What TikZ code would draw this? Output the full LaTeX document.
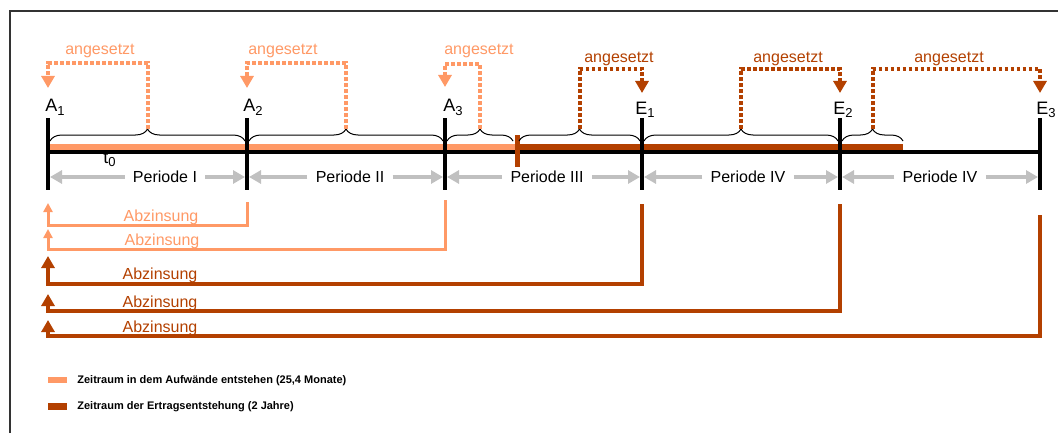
\documentclass[tikz,border=0pt]{standalone}
\usepackage{fontspec}
\setmainfont{Liberation Sans}
\usetikzlibrary{arrows.meta,calc,positioning,decorations.pathreplacing}
\definecolor{tlink}{HTML}{000000}
\definecolor{tllight}{HTML}{FF9966}
\definecolor{tldark}{HTML}{B34000}
\definecolor{tlgrey}{HTML}{C0C0C0}
\definecolor{tlframe}{HTML}{333333}
\newcommand{\tlsub}[1]{\raisebox{-0.35ex}{\fontsize{6.5}{7}\selectfont #1}}
\tikzset{
  tl text/.style={font=\fontsize{8}{9.6}\selectfont, text=tlink, inner sep=0pt},
  tl mark/.style={font=\fontsize{9}{10.8}\selectfont, text=tlink, inner sep=0pt, anchor=base west},
  tl legend/.style={font=\bfseries\fontsize{5.5}{6.6}\selectfont, text=tlink, inner sep=0pt, anchor=base west},
  tl frame/.style={draw=tlframe, line width=0.75pt},
  tl axis/.style={draw=tlink, line width=2pt},
  tl tick/.style={draw=tlink, line width=2pt},
  tl split/.style={draw=tldark, line width=2.5pt},
  tl bar light/.style={draw=tllight, line width=3pt},
  tl bar dark/.style={draw=tldark, line width=3.5pt},
  tl brace/.style={draw=tlink, line width=0.5pt, decorate, decoration={brace, amplitude=6pt}},
  tl dotted/.style={line width=2pt, dash pattern=on 1.8pt off 1.2pt,
    -{Triangle[length=6pt,width=6.5pt]}},
  tl period/.style={tl text, inner xsep=4pt},
  tl span/.style={draw=tlgrey, line width=2pt, shorten >=1pt,
    -{Triangle[length=6pt,width=6.5pt]}},
  tl disc light/.style={draw=tllight, line width=1.5pt,
    -{Triangle[length=4.5pt,width=4.5pt]}},
  tl disc dark/.style={draw=tldark, line width=2pt,
    -{Triangle[length=6pt,width=6.5pt]}}
}

\begin{document}
\begin{tikzpicture}[tl text, x=0.5pt, y=-0.5pt]
  \useasboundingbox (0,0) rectangle (1058,433);
  \draw[tl frame] (10,433) -- (10,11) -- (1058,11);
  % Zeitpunkte
  \coordinate (A1) at (48,152);
  \coordinate (A2) at (247,152);
  \coordinate (A3) at (445,152);
  \coordinate (E1) at (642,152);
  \coordinate (E2) at (840,152);
  \coordinate (E3) at (1040,152);
  % Zeitraeume und Achse
  \draw[tl bar light] (48,147) -- (517,147);
  \draw[tl bar dark] (517,147) -- (903,147);
  \draw[tl axis] (A1) -- (E3);
  \draw[tl split] (517,135) -- (517,167);
  \foreach \p in {A1,A2,A3,E1,E2,E3}
    \draw[tl tick] ($(\p)+(0,-34)$) -- ($(\p)+(0,38)$);
  \node[tl mark] (lA1) at (45,112) {A\tlsub{1}};
  \node[tl mark] (lA2) at (243,112) {A\tlsub{2}};
  \node[tl mark] (lA3) at (443,112) {A\tlsub{3}};
  \node[tl mark] (lE1) at (635,114) {E\tlsub{1}};
  \node[tl mark] (lE2) at (833,114) {E\tlsub{2}};
  \node[tl mark] (lE3) at (1036,114) {E\tlsub{3}};
  \node[tl mark] (t0) at (103,163) {t\tlsub{0}};
  % Klammern
  \foreach \s/\e/\n in {50/245/1, 249/443/2, 447/513/3, 519/640/4, 644/838/5, 842/903/6} {
    \draw[tl brace] (\s,141) -- (\e,141);
    \coordinate (b\n) at ({(\s+\e)/2},129);
  }
  % angesetzt
  \foreach \b/\p/\c/\h/\t in {b1/A1/tllight/-89/-64, b2/A2/tllight/-89/-64, b3/A3/tllight/-88/-65,
      b4/E1/tldark/-83/-59, b5/E2/tldark/-83/-59, b6/E3/tldark/-83/-59}
    \draw[tl dotted, draw=\c] (\b) |- ($(\p)+(0,\h)$) -- ($(\p)+(0,\t)$);
  \node[tl text, text=tllight, anchor=base] (n1) at (100,55) {angesetzt};
  \node[tl text, text=tllight, anchor=base] (n2) at (283,55) {angesetzt};
  \node[tl text, text=tllight, anchor=base] (n3) at (479,55) {angesetzt};
  \node[tl text, text=tldark, anchor=base] (n4) at (619,62) {angesetzt};
  \node[tl text, text=tldark, anchor=base] (n5) at (788,62) {angesetzt};
  \node[tl text, text=tldark, anchor=base] (n6) at (949,62) {angesetzt};
  % Perioden
  \foreach \n/\x/\l/\r/\t in {1/165/A1/A2/I, 2/350/A2/A3/II, 3/547/A3/E1/III,
      4/748/E1/E2/IV, 5/940/E2/E3/IV} {
    \node[tl period] (p\n) at (\x,177) {Periode \t};
    \draw[tl span] (p\n) -- (\l |- p\n);
    \draw[tl span] (p\n) -- (\r |- p\n);
  }
  % Abzinsung
  \draw[tl disc light] ($(A2)+(0,50)$) |- ($(A1)+(0,73)$) -- ($(A1)+(0,51)$);
  \draw[tl disc light] ($(A3)+(0,48)$) |- ($(A1)+(0,97)$) -- ($(A1)+(0,77)$);
  \draw[tl disc dark] ($(E1)+(0,52)$) |- ($(A1)+(0,132)$) -- ($(A1)+(0,104)$);
  \draw[tl disc dark] ($(E2)+(0,52)$) |- ($(A1)+(0,159)$) -- ($(A1)+(0,142)$);
  \draw[tl disc dark] ($(E3)+(0,63)$) |- ($(A1)+(0,184)$) -- ($(A1)+(0,168)$);
  \node[tl text, text=tllight, anchor=base] (d1) at (161,221) {Abzinsung};
  \node[tl text, text=tllight, anchor=base] (d2) at (162,245) {Abzinsung};
  \node[tl text, text=tldark, anchor=base] (d3) at (160,279) {Abzinsung};
  \node[tl text, text=tldark, anchor=base] (d4) at (160,307) {Abzinsung};
  \node[tl text, text=tldark, anchor=base] (d5) at (160,332) {Abzinsung};
  % Legende
  \draw[tl bar light] (48,380) -- (67,380);
  \draw[tl bar dark] (48,406) -- (67,406);
  \node[tl legend] (lg1) at (77,383) {Zeitraum in dem Aufwände entstehen (25,4 Monate)};
  \node[tl legend] (lg2) at (77,409) {Zeitraum der Ertragsentstehung (2 Jahre)};
\end{tikzpicture}
\end{document}
